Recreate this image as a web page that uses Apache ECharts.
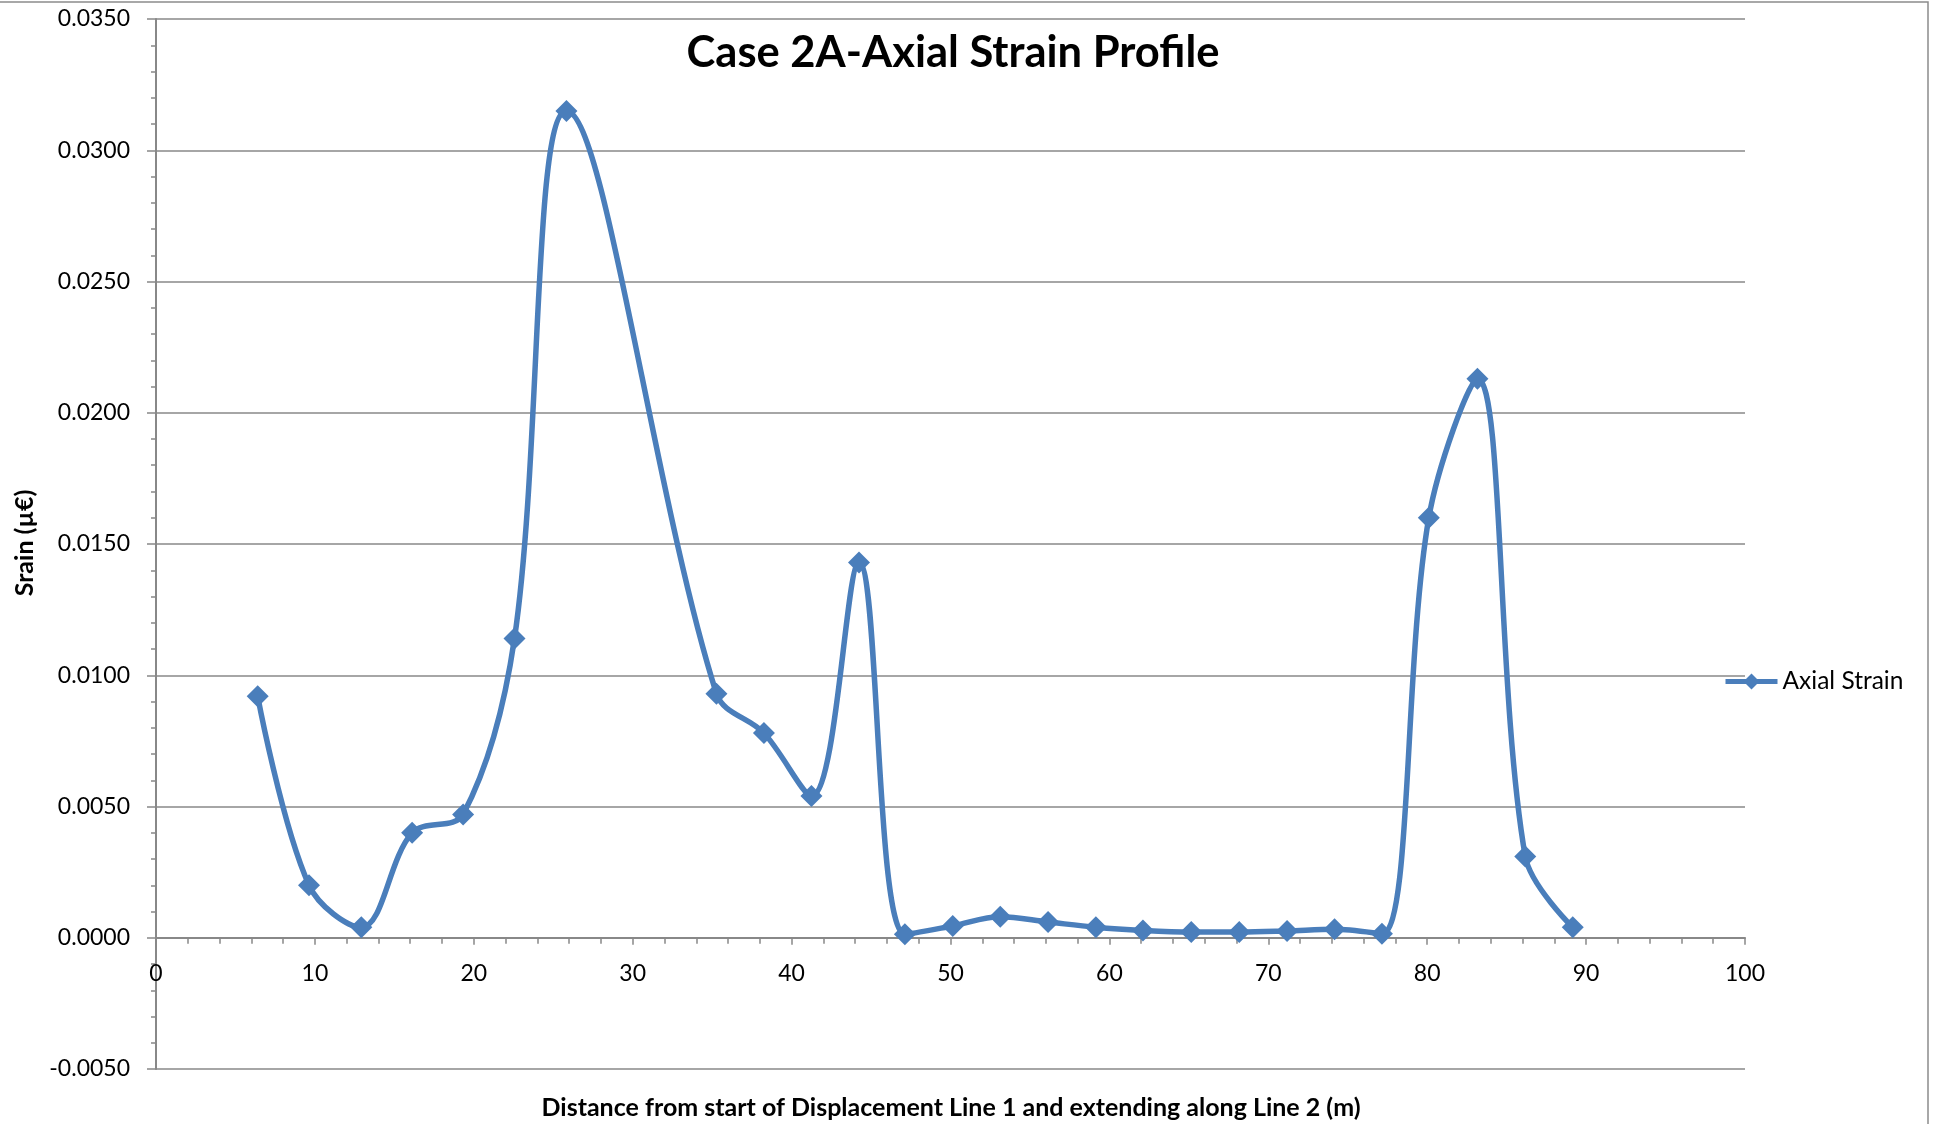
<!DOCTYPE html>
<html>
<head>
<meta charset="utf-8">
<title>Case 2A-Axial Strain Profile</title>
<script src="https://cdn.jsdelivr.net/npm/echarts@6/dist/echarts.min.js"></script>
<style>
  html, body { margin: 0; padding: 0; background: #fff; }
  #chart { width: 1936px; height: 1124px; }
</style>
</head>
<body>
<div id="chart"></div>
<script>
// distance along the line (m)
const distance = [6.40, 9.63, 12.92, 16.12, 19.33, 22.56, 25.83, 35.27, 38.26, 41.25, 44.24,
  47.13, 50.14, 53.13, 56.14, 59.15, 62.11, 65.15, 68.17, 71.18, 74.17, 77.15,
  80.10, 83.16, 86.17, 89.16];
// axial strain
const axialStrain = [0.0092, 0.0020, 0.0004, 0.0040, 0.0047, 0.0114, 0.0315, 0.0093, 0.0078, 0.0054, 0.0143,
  0.00013, 0.00045, 0.0008, 0.0006, 0.0004, 0.00028, 0.00022, 0.00022, 0.00026, 0.00032, 0.00015,
  0.0160, 0.0213, 0.0031, 0.0004];
const seriesName = 'Axial Strain';
const chartTitle = 'Case 2A-Axial Strain Profile';
const xTitle = 'Distance from start of Displacement Line 1 and extending along Line 2 (m)';
const yTitle = 'Srain (µ€)';

const blue = '#4a7ebb';
const gray = '#888888';
const font = 'Lato';

const yMin = -0.005;
const yMax = 0.035;

let chart = echarts.init(document.getElementById('chart'));

let points = distance.map((d, i) => [d, axialStrain[i]]);

// grid box, the x axis is lifted from the bottom edge up to y = 0
const gridTop = 19;
const gridBottom = 55;
const gridHeight = 1124 - gridTop - gridBottom;
const zeroOffset = -gridHeight * (0 - yMin) / (yMax - yMin);

const option = {
  animation: false,
  grid: {
    left: 156,
    right: 191,
    top: gridTop,
    bottom: gridBottom,
    containLabel: false
  },
  legend: {
    data: [seriesName],
    left: 1718,
    top: 664,
    itemWidth: 52,
    itemHeight: 20,
    itemGap: 5,
    lineStyle: { width: 5 },
    textStyle: { fontFamily: font, fontSize: 24.5, color: '#000' }
  },
  xAxis: {
    type: 'value',
    min: 0,
    max: 100,
    interval: 10,
    offset: zeroOffset,
    axisLine: { onZero: false, lineStyle: { color: gray, width: 2 } },
    axisTick: { show: true, length: 7, lineStyle: { color: gray, width: 1.5 } },
    minorTick: { show: true, splitNumber: 5, length: 6, lineStyle: { color: gray, width: 1.5 } },
    splitLine: { show: false },
    axisLabel: { margin: 24, fontFamily: font, fontSize: 23, color: '#000' }
  },
  yAxis: {
    type: 'value',
    min: yMin,
    max: yMax,
    interval: 0.005,
    axisLine: { show: true, lineStyle: { color: gray, width: 2 } },
    axisTick: { show: true, length: 9, lineStyle: { color: gray, width: 1.5 } },
    minorTick: { show: true, splitNumber: 5, length: 5, lineStyle: { color: gray, width: 1.5 } },
    splitLine: { show: true, lineStyle: { color: gray, width: 1.5 } },
    axisLabel: {
      margin: 26,
      fontFamily: font,
      fontSize: 23,
      color: '#000',
      formatter: v => v.toFixed(4)
    }
  },
  series: [
    {
      name: seriesName,
      type: 'line',
      data: points,
      smooth: 0.35,
      symbol: 'diamond',
      symbolSize: 22,
      lineStyle: { color: blue, width: 5.5 },
      itemStyle: { color: blue }
    }
  ],
  // titles and outer frame
  graphic: [
    {
      type: 'text',
      x: 953,
      y: 53,
      style: {
        text: chartTitle,
        font: 'bold 43.5px ' + font,
        fill: '#000',
        textAlign: 'center',
        textVerticalAlign: 'middle'
      }
    },
    {
      type: 'text',
      x: 951,
      y: 1108,
      style: {
        text: xTitle,
        font: 'bold 25px ' + font,
        fill: '#000',
        textAlign: 'center',
        textVerticalAlign: 'middle'
      }
    },
    {
      type: 'text',
      x: 25,
      y: 543,
      rotation: Math.PI / 2,
      style: {
        text: yTitle,
        font: 'bold 25px ' + font,
        fill: '#000',
        textAlign: 'center',
        textVerticalAlign: 'middle'
      }
    },
    {
      type: 'polyline',
      shape: { points: [[0, 2], [1928, 2], [1928, 1124]] },
      style: { stroke: '#8c8c8c', lineWidth: 1.5, fill: null }
    }
  ]
};

chart.setOption(option);
</script>
</body>
</html>
